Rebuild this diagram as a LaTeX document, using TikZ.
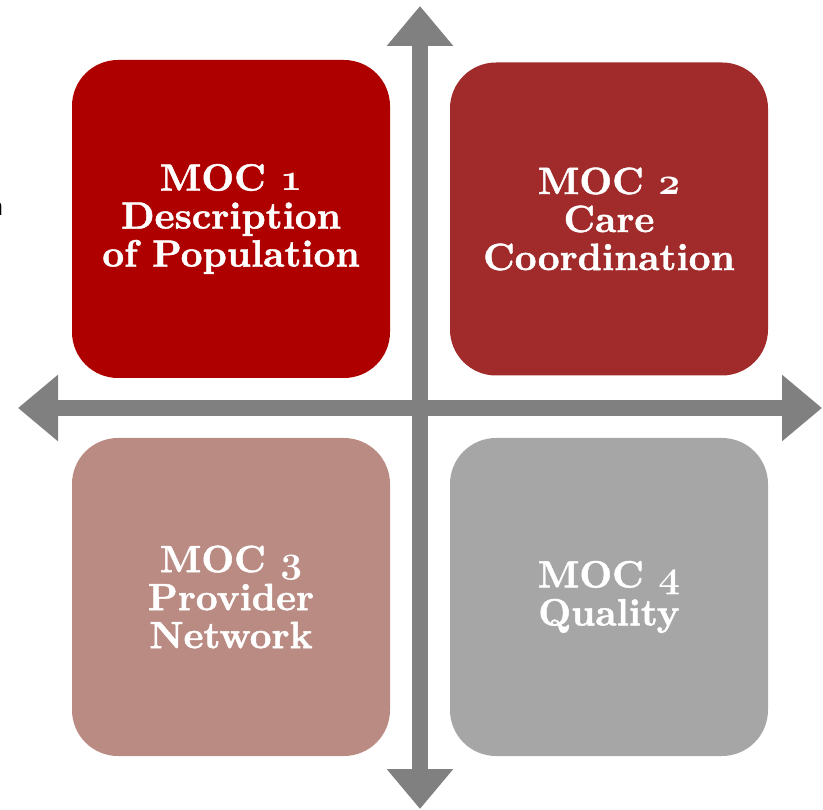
\RequirePackage{fix-cm}
\documentclass[tikz,border=0pt]{standalone}
\usepackage{fontspec}
\usetikzlibrary{arrows.meta}

\definecolor{mocA}{RGB}{175,0,0}
\definecolor{mocB}{RGB}{161,42,42}
\definecolor{mocC}{RGB}{186,139,131}
\definecolor{mocD}{RGB}{166,166,166}
\definecolor{axisgray}{RGB}{128,128,128}

% heavy serif for the box labels
\newfontfamily\mocfont{lmroman10-bold.otf}[FakeBold=1.2]
% bold old-style figures
\newcommand\osnum[1]{{\usefont{OML}{cmm}{b}{it}#1}}

\tikzset{
  mocbox/.style={rounded corners=46pt, minimum width=318pt, minimum height=318pt,
    inner sep=0pt, text=white, align=center,
    font=\mocfont\fontsize{38}{38}\selectfont},
  axisline/.style={draw=axisgray, line width=15.5pt, line cap=butt,
    {Triangle[width=64pt,length=40pt]}-{Triangle[width=64pt,length=40pt]}},
}

\begin{document}
\begin{tikzpicture}[x=1pt,y=-1pt]
  \useasboundingbox (0,0) rectangle (823,810);

  % quadrant boxes
  \node[mocbox, fill=mocA] (m1) at (231,219) {MOC \osnum{1}\\Description\\of Population};
  \node[mocbox, fill=mocB, minimum height=313pt] (m2) at (609,219) {MOC \osnum{2}\\Care\\Coordination};
  \node[mocbox, fill=mocC] (m3) at (231,597) {MOC \osnum{3}\\Provider\\Network};
  \node[mocbox, fill=mocD] (m4) at (609,597) {MOC \osnum{4}\\Quality};

  % axis end points
  \coordinate (top) at (420,6);
  \coordinate (bottom) at (420,809);
  \coordinate (left) at (18,408);
  \coordinate (right) at (822,408);

  \draw[axisline] (bottom) -- (top);
  \draw[axisline] (left) -- (right);

  % partly visible text at the left edge
  \node[anchor=base west, inner sep=0pt, font=\fontsize{30}{32}\selectfont\sffamily] (cut) at (-11,216) {n};
\end{tikzpicture}
\end{document}
